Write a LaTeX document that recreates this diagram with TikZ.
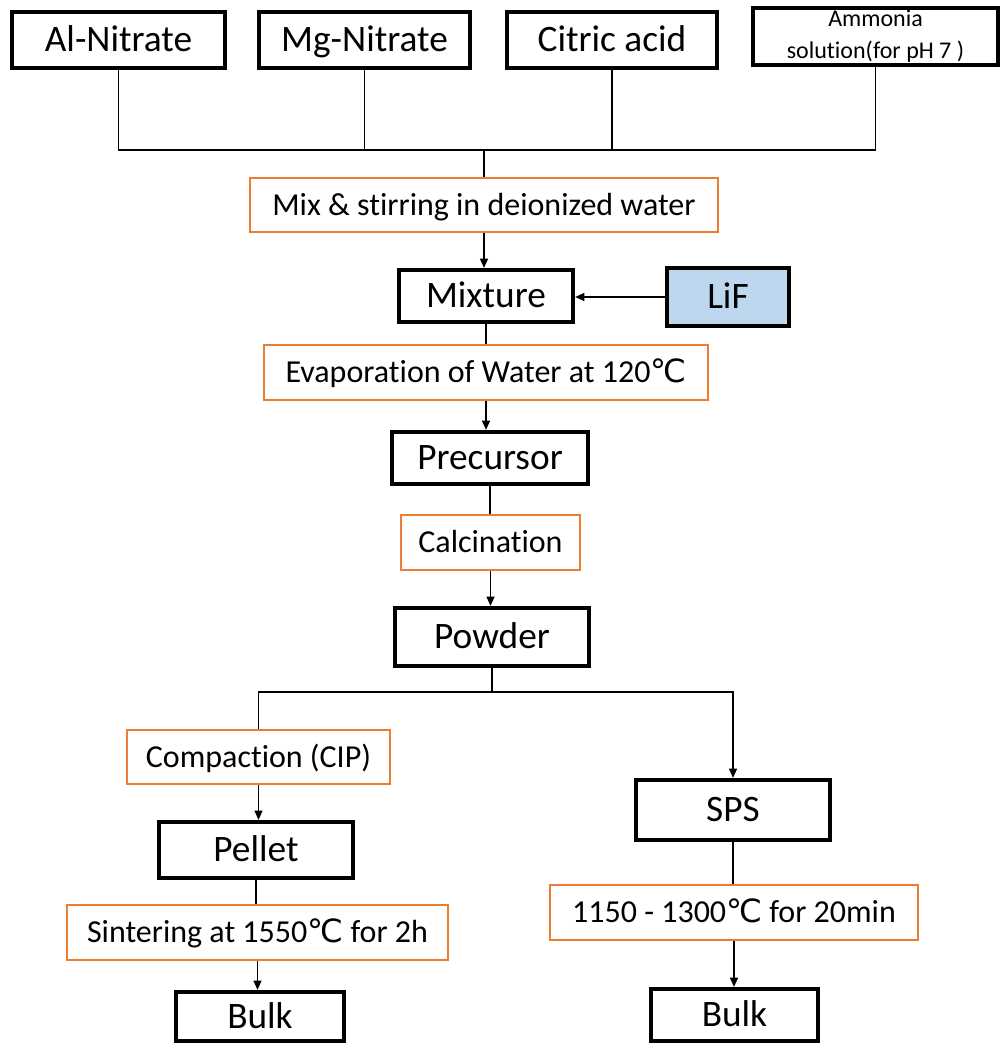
\documentclass[tikz,border=0pt]{standalone}
\usepackage{fontspec}
\setmainfont{Carlito}[Ligatures=NoCommon]
\newfontfamily\degfont{DejaVu Sans}
\usetikzlibrary{arrows.meta}
\definecolor{procorange}{RGB}{237,125,49}
\definecolor{lifblue}{RGB}{189,215,238}
\newcommand{\degC}{{\degfont ℃}}

\begin{document}
\begin{tikzpicture}[x=0.75pt,y=-0.75pt,
    sz/.style 2 args={minimum width=#1*0.75pt,minimum height=#2*0.75pt},
    matframe/.style={draw,line width=3.2pt,inner sep=0pt},
    matbox/.style={matframe,text height=23pt,text depth=5.5pt,
      font=\fontsize{28}{34}\selectfont},
    procbox/.style={draw=procorange,line width=1.5pt,inner sep=0pt,
      fill=white,text height=20pt,text depth=4.8pt,
      font=\fontsize{24}{29}\selectfont},
    link/.style={line width=1.1pt},
    flow/.style={link,-{Triangle[length=7pt,width=6pt]}}]
      \useasboundingbox (0,0) rectangle (1002,1045);
      % starting materials
      \node[matbox,sz={213}{56}] (al) at (118.5,40) {Al-Nitrate};
      \node[matbox,sz={211}{56}] (mg) at (364.5,40) {Mg-Nitrate};
      \node[matbox,sz={210}{56}] (ca) at (612,40) {Citric acid};
      \node[matframe,sz={245}{57},align=center,
        font=\fontsize{18}{24}\selectfont] (am) at (875.5,36.5)
        {Ammonia\\solution(for pH 7 )};
      \coordinate (join) at (484,150);
      % sol-gel route
      \node[procbox,sz={468}{54}] (mix) at (484,205)
        {Mix \& stirring in deionized water};
      \node[matbox,sz={174}{52}] (mixture) at (486,296) {Mixture};
      \node[matbox,sz={122}{58},fill=lifblue] (lif) at (728,297) {LiF};
      \node[procbox,sz={444}{55}] (evap) at (486,372.5)
        {Evaporation of Water at 120\degC};
      \node[matbox,sz={196}{52}] (prec) at (490,458) {Precursor};
      \node[procbox,sz={179}{55}] (calc) at (490.5,542.5) {Calcination};
      \node[matbox,sz={194}{58}] (powder) at (492,637) {Powder};
      \coordinate (split) at (491,692);
      % left branch
      \node[procbox,sz={263}{54}] (comp) at (258.5,757) {Compaction (CIP)};
      \node[matbox,sz={194}{56}] (pellet) at (256,850) {Pellet};
      \node[procbox,sz={381}{55}] (sint) at (257.5,932.5)
        {Sintering at 1550\degC\ for 2h};
      \node[matbox,sz={168}{49}] (bulkl) at (260,1016.5) {Bulk};
      % right branch
      \node[matbox,sz={194}{60}] (sps) at (733,810) {SPS};
      \node[procbox,sz={368}{55}] (temp) at (734,912.5)
        {1150 - 1300\degC\ for 20min};
      \node[matbox,sz={167}{52}] (bulkr) at (734.5,1015) {Bulk};

      \draw[link] (al.south) |- (join) -| (am.south);
      \draw[link] (mg.south) -- (mg.south |- join);
      \draw[link] (ca.south) -- (ca.south |- join);
      \draw[link] (join) -- (join |- mix.north);
      \draw[flow] (mix.south) -- (mix.south |- mixture.north);
      \draw[flow] (lif.west) -- (mixture.east |- lif.west);
      \draw[link] (mixture.south) -- (mixture.south |- evap.north);
      \draw[flow] (evap.south) -- (evap.south |- prec.north);
      \draw[link] (prec.south) -- (prec.south |- calc.north);
      \draw[flow] (calc.south) -- (calc.south |- powder.north);
      \draw[link] (powder.south) -- (powder.south |- split);
      \draw[link] (split) -| (comp.north);
      \draw[flow] (split) -| (sps.north);
      \draw[flow] (comp.south) -- (comp.south |- pellet.north);
      \draw[link] (pellet.south) -- (pellet.south |- sint.north);
      \draw[flow] (sint.south) -- (sint.south |- bulkl.north);
      \draw[link] (sps.south) -- (sps.south |- temp.north);
      \draw[flow] (temp.south) -- (temp.south |- bulkr.north);
    \end{tikzpicture}
\end{document}
